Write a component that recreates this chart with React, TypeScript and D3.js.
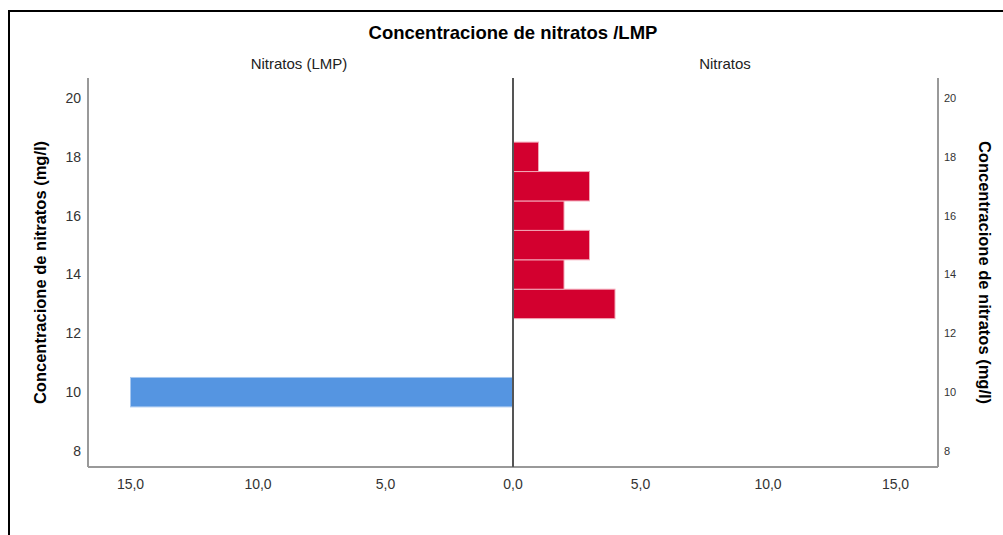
import React from "react";
import * as d3 from "d3";

const title = "Concentracione de nitratos /LMP";
const leftPanelLabel = "Nitratos (LMP)";
const rightPanelLabel = "Nitratos";
const yAxisTitle = "Concentracione de nitratos (mg/l)";

// bins (mg/l) and frequencies
const lmpBins = [10];
const lmpCounts = [15];
const nitBins = [13, 14, 15, 16, 17, 18];
const nitCounts = [4, 2, 3, 2, 3, 1];

const yTicks = [8, 10, 12, 14, 16, 18, 20];
const xTicks = [0, 5, 10, 15];

const W = 1003;
const H = 535;

export default function App() {
  const cx = 513;
  const top = 78;
  const bottom = 467;
  const leftEdge = 88;
  const rightEdge = 938;

  const y = d3.scaleLinear().domain([8, 20]).range([451, 98]);
  const xR = d3.scaleLinear().domain([0, 15]).range([cx, cx + 382.5]);
  const xL = d3.scaleLinear().domain([0, 15]).range([cx, cx - 382.5]);
  const fmt = (v: number) => d3.format(".1f")(v).replace(".", ",");

  const red = "#d3002f";
  const blue = "#5595e1";

  return (
    <svg
      width={W}
      height={H}
      style={{ position: "absolute", left: 0, top: 0, fontFamily: "'Liberation Sans', Arial, sans-serif" }}
    >
      <rect x={0} y={0} width={W} height={H} fill="#fff" />
      {/* frame */}
      <rect x={9} y={11} width={W + 20} height={H + 20} fill="none" stroke="#000" strokeWidth={2} />

      <text x={cx} y={39} textAnchor="middle" fontSize={18.5} fontWeight="bold" fill="#000">
        {title}
      </text>
      <text x={299} y={69} textAnchor="middle" fontSize={15} fill="#222">
        {leftPanelLabel}
      </text>
      <text x={725} y={69} textAnchor="middle" fontSize={15} fill="#222">
        {rightPanelLabel}
      </text>

      {/* bars */}
      {lmpBins.map((b, i) => (
        <rect
          key={"l" + i}
          x={xL(lmpCounts[i])}
          y={y(b + 0.5)}
          width={xL(0) - xL(lmpCounts[i])}
          height={y(b - 0.5) - y(b + 0.5)}
          fill={blue}
          stroke="#a8c8f0"
          strokeWidth={1}
        />
      ))}
      {nitBins.map((b, i) => (
        <rect
          key={"r" + i}
          x={xR(0)}
          y={y(b + 0.5)}
          width={xR(nitCounts[i]) - xR(0)}
          height={y(b - 0.5) - y(b + 0.5)}
          fill={red}
          stroke="#f3a7b7"
          strokeWidth={1}
        />
      ))}

      {/* axes */}
      <line x1={leftEdge} y1={top} x2={leftEdge} y2={bottom} stroke="#999" strokeWidth={2} />
      <line x1={rightEdge} y1={top} x2={rightEdge} y2={bottom} stroke="#999" strokeWidth={2} />
      <line x1={leftEdge} y1={bottom} x2={rightEdge} y2={bottom} stroke="#999" strokeWidth={2} />
      <line x1={cx} y1={top} x2={cx} y2={bottom} stroke="#555" strokeWidth={2} />

      {yTicks.map((t) => (
        <text key={"yl" + t} x={81} y={y(t)} dy="0.35em" textAnchor="end" fontSize={14} fill="#333">
          {t}
        </text>
      ))}
      {yTicks.map((t) => (
        <text key={"yr" + t} x={944} y={y(t)} dy="0.35em" textAnchor="start" fontSize={11} fill="#333">
          {t}
        </text>
      ))}
      {xTicks.filter((t) => t !== 0).map((t) => (
        <text key={"xl" + t} x={xL(t)} y={489} textAnchor="middle" fontSize={14} fill="#333">
          {fmt(t)}
        </text>
      ))}
      {xTicks.map((t) => (
        <text key={"xr" + t} x={xR(t)} y={489} textAnchor="middle" fontSize={14} fill="#333">
          {fmt(t)}
        </text>
      ))}

      <text
        transform={`translate(46, ${(top + bottom) / 2}) rotate(-90)`}
        textAnchor="middle"
        fontSize={16.5}
        fontWeight="bold"
        fill="#000"
      >
        {yAxisTitle}
      </text>
      <text
        transform={`translate(979, ${(top + bottom) / 2}) rotate(90)`}
        textAnchor="middle"
        fontSize={16.5}
        fontWeight="bold"
        fill="#000"
      >
        {yAxisTitle}
      </text>
    </svg>
  );
}
